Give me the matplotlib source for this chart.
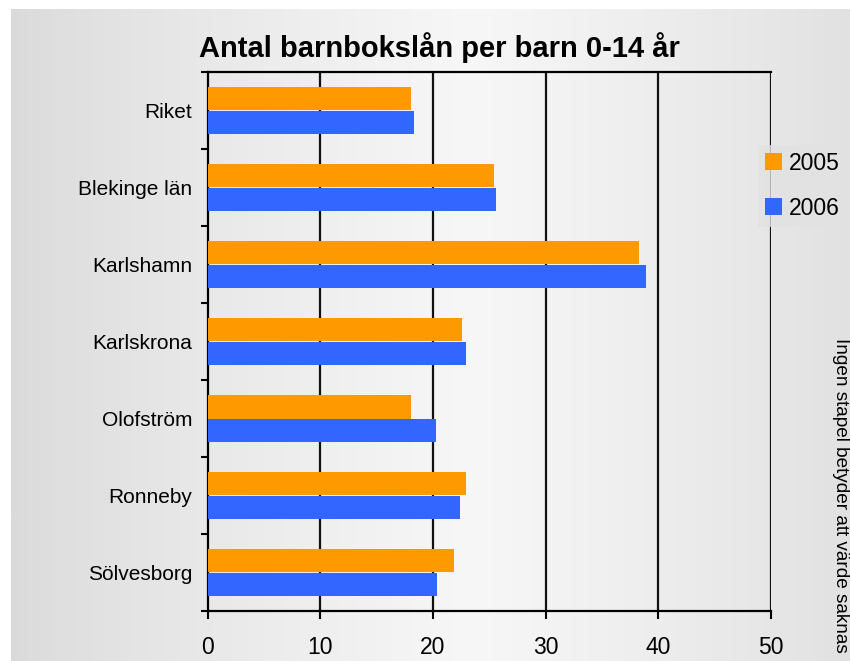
import matplotlib.pyplot as plt
import numpy as np
from matplotlib.colors import LinearSegmentedColormap

plt.rcParams['font.family'] = ['Liberation Sans', 'DejaVu Sans']

kommuner = ['Riket', 'Blekinge län', 'Karlshamn', 'Karlskrona',
            'Olofström', 'Ronneby', 'Sölvesborg']
v2005 = [18.1, 25.4, 38.3, 22.6, 18.1, 22.9, 21.9]
v2006 = [18.3, 25.6, 38.9, 22.9, 20.3, 22.4, 20.4]
xticks = [0, 10, 20, 30, 40, 50]

W, H = 850, 661
fig = plt.figure(figsize=(W / 100, H / 100), dpi=100)

# gray gradient background (light in the middle, darker at the sides)
bg = fig.add_axes([11 / W, 0, 1 - 11 / W, 1 - 9 / H], zorder=-10)
xs = np.linspace(0, 1, 400)
g = 1 - np.abs(xs - 0.55) / 0.55
g = np.clip(g, 0, 1) ** 0.8
cmap = LinearSegmentedColormap.from_list('bg', ['#dadada', '#f7f7f7'])
bg.imshow(g[np.newaxis, :], aspect='auto', cmap=cmap, vmin=0, vmax=1,
          extent=[0, 1, 0, 1])
bg.axis('off')

ax = fig.add_axes([207.5 / W, 50 / H, (771 - 207.5) / W, (611 - 72) / H])
ax.set_facecolor('none')

y = np.arange(len(kommuner))
h = 0.3
ax.barh(y - h / 2, v2005, height=h, color='#ff9900', label='2005', zorder=3)
ax.barh(y + h / 2, v2006, height=h, color='#3366ff', label='2006', zorder=3)

ax.set_xlim(0, 50)
ax.set_ylim(len(kommuner) - 0.5, -0.5)
ax.set_xticks(xticks)
ax.set_xticklabels([str(t) for t in xticks], fontsize=16.5)
ax.tick_params(axis='x', direction='out', length=6, width=1.5, pad=12)

ax.set_yticks(y)
ax.set_yticklabels(kommuner, fontsize=15)
ax.tick_params(axis='y', which='major', length=0, pad=11)
ax.set_yticks(np.arange(-0.5, len(kommuner)), minor=True)
ax.tick_params(axis='y', which='minor', direction='out', length=5, width=1.5)

for x in xticks[1:]:
    ax.axvline(x, color='#111111', lw=1.6, zorder=2)

for side in ['left', 'bottom', 'top']:
    ax.spines[side].set_linewidth(1.6)
ax.spines['right'].set_visible(False)

fig.text(439 / W, 1 - 48 / H, 'Antal barnbokslån per barn 0-14 år',
         fontsize=21, fontweight='bold', ha='center', va='center')

leg = fig.legend(loc='upper left', bbox_to_anchor=(758 / W, 1 - 145 / H),
                 fontsize=16.5, frameon=True, fancybox=False,
                 handlelength=0.75, handleheight=0.75, handletextpad=0.3,
                 labelspacing=0.95, borderpad=0.3, borderaxespad=0)
leg.get_frame().set_facecolor('#e2e2e2')
leg.get_frame().set_edgecolor('none')

fig.text(840 / W, 1 - 495 / H, 'Ingen stapel betyder att värde saknas',
         fontsize=13.7, rotation=270, ha='center', va='center')

fig.savefig('out.png', dpi=100)
